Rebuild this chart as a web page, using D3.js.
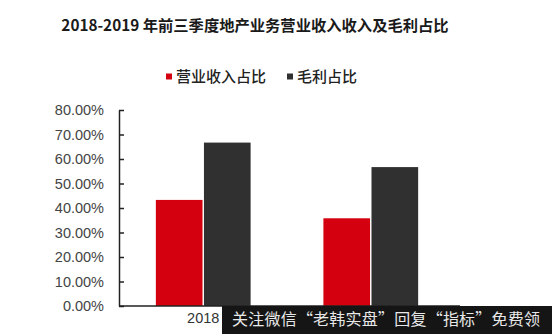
<!DOCTYPE html>
<html><head><meta charset="utf-8">
<script src="https://cdn.jsdelivr.net/npm/d3@7"></script>
<style>body{margin:0;background:#fff}svg{display:block}</style>
</head><body>
<svg id="c" width="552" height="334"></svg>
<script>
const categories = ["2018", "2019"];
const seriesNames = ["营业收入占比", "毛利占比"];
const revenueShare = [0.433, 0.358];
const grossProfitShare = [0.667, 0.567];
const yTicks = [0, 0.1, 0.2, 0.3, 0.4, 0.5, 0.6, 0.7, 0.8];
const titleText = "2018-2019 年前三季度地产业务营业收入收入及毛利占比";
const watermarkText = "关注微信“老韩实盘”回复“指标”免费领";
const colors = ["#d5000f", "#303030"];

(function () {
const svg = d3.select("#c");
const pLeft = 119, pRight = 455, pTop = 110, pBottom = 306;
const wmX = 222;

const x = d3.scaleBand().domain(categories).range([pLeft, pRight]).paddingInner(0.4345).paddingOuter(0.22);
const x1 = d3.scaleBand().domain(seriesNames).range([0, x.bandwidth()]).paddingInner(0.03);
const y = d3.scaleLinear().domain([0, 0.8]).range([pBottom, pTop]);

// title
svg.append("text").attr("x", 255).attr("y", 31).attr("text-anchor", "middle")
  .attr("font-family", "'Noto Sans CJK SC', sans-serif").attr("font-weight", "bold")
  .attr("font-size", 15.3).attr("fill", "#1a1a1a").text(titleText);

// legend
const legendX = [166, 287];
seriesNames.forEach((s, i) => {
  svg.append("rect").attr("x", legendX[i]).attr("y", 73.5).attr("width", 6).attr("height", 6).attr("fill", colors[i]);
  svg.append("text").attr("x", legendX[i] + 10).attr("y", 82).attr("font-family", "'Noto Sans CJK SC', sans-serif")
    .attr("font-size", 15).attr("font-weight", 500).attr("fill", "#222").text(s);
});

// bars
const data = categories.map((c, i) => ({c, vals: [revenueShare[i], grossProfitShare[i]]}));
const g = svg.append("g");
data.forEach(d => {
  d.vals.forEach((v, j) => {
    g.append("rect").attr("x", x(d.c) + x1(seriesNames[j])).attr("y", y(v))
      .attr("width", x1.bandwidth()).attr("height", y(0) - y(v)).attr("fill", colors[j]);
  });
});

// y axis
const yAxis = d3.axisLeft(y).tickValues(yTicks).tickFormat(d3.format(".2%")).tickSizeInner(-5).tickSizeOuter(0).tickPadding(15);
const ya = svg.append("g").attr("transform", `translate(${pLeft},0)`).call(yAxis);
ya.select(".domain").attr("stroke", "#222").attr("stroke-width", 1.5);
ya.selectAll(".tick line").attr("stroke", "#222").attr("stroke-width", 1.5);
ya.selectAll(".tick text").attr("font-family", "'Liberation Sans', Arial, sans-serif").attr("font-size", 14.5).attr("fill", "#444");

// x axis
const xAxis = d3.axisBottom(x).tickSize(0).tickPadding(7);
const xa = svg.append("g").attr("transform", `translate(0,${pBottom})`).call(xAxis);
xa.select(".domain").attr("stroke", "#222").attr("stroke-width", 1.5).attr("d", `M${pLeft},0H${pRight + 5}`);
xa.selectAll(".tick text").attr("font-family", "'Liberation Sans', Arial, sans-serif").attr("font-size", 14.5).attr("fill", "#333");
// labels hidden under the overlay band in the reference are not shown
xa.selectAll(".tick").filter(d => x(d) + x.bandwidth() / 2 > wmX + 20).select("text").remove();

// watermark band
svg.append("rect").attr("x", wmX).attr("y", 306).attr("width", 552 - wmX).attr("height", 28).attr("fill", "#151515");
svg.append("text").attr("x", 232).attr("y", 325).attr("font-family", "'Noto Sans CJK SC', sans-serif")
  .attr("font-size", 16).attr("fill", "#e8e8e8").attr("textLength", 308).attr("lengthAdjust", "spacing").text(watermarkText);
})();
</script>
</body></html>
